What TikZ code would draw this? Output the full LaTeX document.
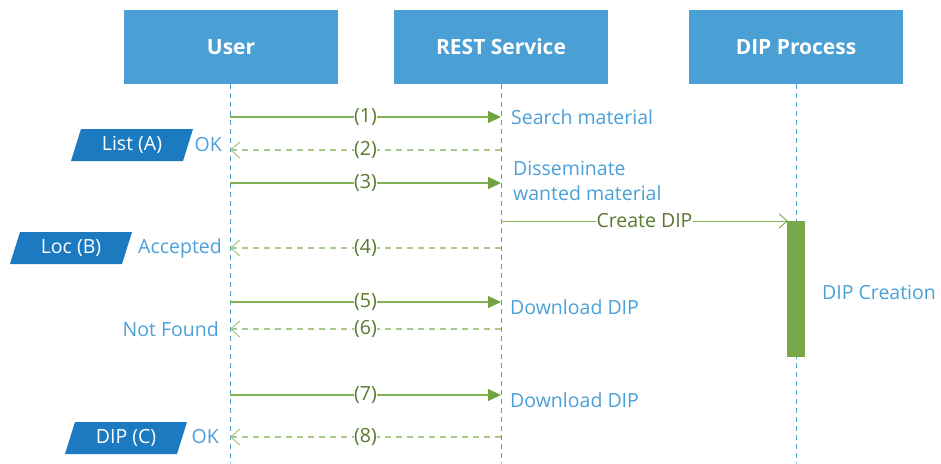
\documentclass[tikz,border=0pt]{standalone}
\usepackage{fontspec}
\setmainfont{Open Sans}
\usetikzlibrary{arrows.meta}
\definecolor{hdr}{HTML}{4A9FD4}
\definecolor{tagc}{HTML}{1B7AC0}
\definecolor{txtb}{HTML}{4AA0D8}
\definecolor{lnc}{HTML}{82B155}
\definecolor{arc}{HTML}{72A340}
\definecolor{rtc}{HTML}{A9C98A}
\definecolor{numc}{HTML}{5A7A2E}
\definecolor{actc}{HTML}{78A848}
\tikzset{
  x=1pt,y=-1pt,
  header/.style={fill=hdr,text=white,font=\fontsize{21}{25}\selectfont\bfseries,minimum width=214pt,minimum height=74pt,inner sep=0pt},
  life/.style={draw=hdr,dashed,dash pattern=on 5pt off 4pt,line width=0.9pt},
  call/.style={draw=lnc,line width=1.1pt,-{Triangle[length=13pt,width=12pt,fill=arc,color=arc]}},
  ret/.style={draw=rtc,line width=1.2pt,dash pattern=on 6pt off 5pt,-{Straight Barb[length=9pt,width=16pt,line width=1.1pt,sep=0pt]}},
  num/.style={fill=white,text=numc,font=\fontsize{19.5}{23}\selectfont,inner sep=0.5pt},
  lbl/.style={text=txtb,font=\fontsize{19.5}{25}\selectfont,inner sep=0pt},
  tagtxt/.style={text=white,font=\fontsize{19.5}{23}\selectfont,inner sep=0pt},
}
\begin{document}
\begin{tikzpicture}
\useasboundingbox (0,0) rectangle (941,463);
% headers
\node[header] (user) at (231,47) {User};
\node[header] (rest) at (501,47) {REST Service};
\node[header] (dip) at (796,47) {DIP Process};
% lifelines
\coordinate (uend) at (230,463);
\coordinate (rend) at (501,463);
\coordinate (dend) at (796,463);
\draw[life] (230,84) -- (uend);
\draw[life] (501,84) -- (rend);
\draw[life] (796,84) -- (dend);
% activation
\fill[actc] (787,221) rectangle (805,357);
\coordinate (actc) at (788,221);
% message endpoints
\foreach \n/\y in {1/117,2/150,3/183,4/248,5/302,6/329,7/395,8/437}{
  \coordinate (u\n) at (230,\y);
  \coordinate (r\n) at (501,\y);
}
\coordinate (rc) at (501,221);
\draw[call] (u1) -- node[num]{(1)} (r1);
\draw[ret] (r2) -- node[num]{(2)} (u2);
\draw[call] (u3) -- node[num]{(3)} (r3);
\draw[draw=lnc,line width=1pt,-{Straight Barb[length=8pt,width=14pt,line width=1pt]}] (rc) -- node[num]{Create DIP} (actc);
\draw[ret] (r4) -- node[num]{(4)} (u4);
\draw[call] (u5) -- node[num]{(5)} (r5);
\draw[ret] (r6) -- node[num]{(6)} (u6);
\draw[call] (u7) -- node[num]{(7)} (r7);
\draw[ret] (r8) -- node[num]{(8)} (u8);
% labels at REST side
\node[lbl,anchor=west] (l1) at (511,117) {Search material};
\node[lbl,anchor=west,align=left] (l3) at (513,181) {Disseminate\\wanted material};
\node[lbl,anchor=west] (l5) at (510,307) {Download DIP};
\node[lbl,anchor=west] (l7) at (510,400) {Download DIP};
\node[lbl,anchor=west] (l9) at (822,292) {DIP Creation};
% labels at user side
\node[lbl,anchor=east] (ok1) at (222,145) {OK};
\node[lbl,anchor=east] (acc) at (222,248) {Accepted};
\node[lbl,anchor=east] (nf) at (219,329) {Not Found};
\node[lbl,anchor=east] (ok2) at (219,437) {OK};
% tags
\fill[tagc] (71,161) -- (81,129) -- (193,129) -- (183,161) -- cycle;
\node[tagtxt] (ta) at (132,145) {List (A)};
\fill[tagc] (10,264) -- (20,232) -- (132,232) -- (122,264) -- cycle;
\node[tagtxt] (tb) at (71,248) {Loc (B)};
\fill[tagc] (65,454) -- (75,422) -- (187,422) -- (177,454) -- cycle;
\node[tagtxt] (tc) at (126,438) {DIP (C)};
\end{tikzpicture}
\end{document}
